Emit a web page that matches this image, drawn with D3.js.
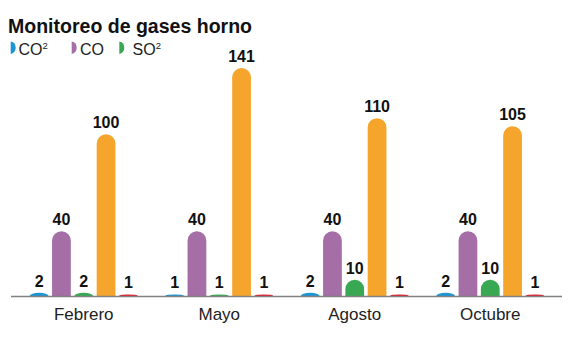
<!DOCTYPE html>
<html>
<head>
<meta charset="utf-8">
<script src="https://cdn.jsdelivr.net/npm/d3@7"></script>
<style>
  html, body { margin: 0; padding: 0; background: #fff; }
  svg { display: block; font-family: "Liberation Sans", Arial, sans-serif; }
</style>
</head>
<body>
<svg id="chart" width="569" height="342"></svg>
<script>
// ---- data ----
const months = ["Febrero", "Mayo", "Agosto", "Octubre"];
const seriesNames = ["CO2", "CO", "SO2", "S4", "S5"];
const seriesColors = ["#1c95d4", "#a56ea6", "#38a853", "#f5a42c", "#e31c2b"];
const co2Values = [2, 1, 2, 2];
const coValues = [40, 40, 40, 40];
const so2Values = [2, 1, 10, 10];
const orangeValues = [100, 141, 110, 105];
const redValues = [1, 1, 1, 1];
const legendItems = [
  { label: "CO", sup: "2", color: "#1c95d4" },
  { label: "CO", sup: "", color: "#a56ea6" },
  { label: "SO", sup: "2", color: "#38a853" }
];
const allSeries = [co2Values, coValues, so2Values, orangeValues, redValues];

const svg = d3.select("#chart");
const baseY = 296;
const topY = 68;

const x0 = d3.scaleBand().domain(months).range([16, 558]).paddingInner(0).paddingOuter(0);
const x1 = d3.scaleBand().domain(seriesNames).range([-54, 54]).paddingInner(0.16).paddingOuter(0);
const y = d3.scaleLinear().domain([0, 141]).range([baseY, topY]);

// title
svg.append("text")
  .attr("x", 8).attr("y", 33)
  .attr("font-size", 19.5).attr("font-weight", "bold").attr("fill", "#111")
  .attr("textLength", 244).attr("lengthAdjust", "spacingAndGlyphs")
  .text("Monitoreo de gases horno");

// legend
const legendX = [{ icon: 10.7, text: 18.5 }, { icon: 71.7, text: 80 }, { icon: 119.3, text: 132.5 }];
legendItems.forEach((d, i) => {
  const ix = legendX[i].icon;
  svg.append("path")
    .attr("d", `M${ix},41.5 A5,6.2 0 0 1 ${ix},53.9 Z`)
    .attr("fill", d.color);
  const t = svg.append("text")
    .attr("x", legendX[i].text).attr("y", 55)
    .attr("font-size", 16).attr("fill", "#222");
  t.append("tspan").text(d.label);
  if (d.sup) t.append("tspan").attr("dy", -6).attr("font-size", 9.5).text(d.sup);
});

// bars
function barPath(x, w, h) {
  const rx = w / 2;
  const ry = Math.min(rx, h);
  return `M${x},${baseY} V${baseY - h + ry} A${rx},${ry} 0 0 1 ${x + w},${baseY - h + ry} V${baseY} Z`;
}

const groups = svg.selectAll("g.month").data(months).join("g")
  .attr("class", "month")
  .attr("transform", m => `translate(${x0(m) + x0.bandwidth() / 2},0)`);

groups.each(function (m, mi) {
  const g = d3.select(this);
  seriesNames.forEach((s, si) => {
    const v = allSeries[si][mi];
    const h = baseY - y(v);
    const bx = x1(s);
    g.append("path")
      .attr("d", barPath(bx, x1.bandwidth(), h))
      .attr("fill", seriesColors[si]);
    g.append("text")
      .attr("x", bx + x1.bandwidth() / 2)
      .attr("y", y(v) - 6)
      .attr("text-anchor", "middle")
      .attr("font-size", 16).attr("font-weight", "bold").attr("fill", "#111")
      .text(v);
  });
});

// baseline
svg.append("line")
  .attr("x1", 11).attr("x2", 562)
  .attr("y1", baseY + 0.5).attr("y2", baseY + 0.5)
  .attr("stroke", "#808080").attr("stroke-width", 1.5);

// category axis labels
const xAxis = d3.axisBottom(x0).tickSize(0).tickPadding(0);
const ax = svg.append("g").attr("transform", `translate(0,${baseY})`).call(xAxis);
ax.select(".domain").remove();
ax.selectAll("text")
  .attr("y", 24).attr("dy", 0)
  .attr("font-size", 17).attr("fill", "#222")
  .attr("font-family", "'Liberation Sans', Arial, sans-serif");
</script>
</body>
</html>
